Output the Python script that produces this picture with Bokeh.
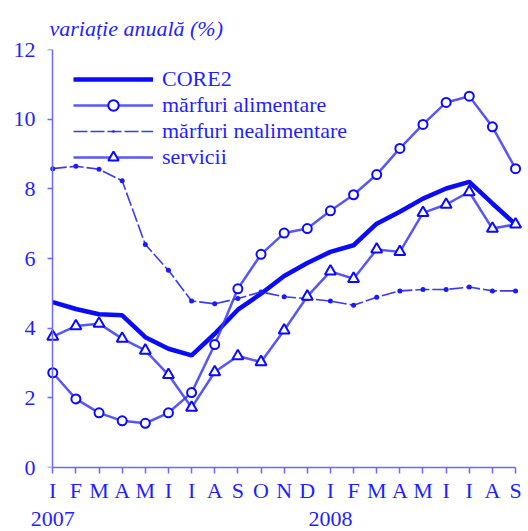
from bokeh.plotting import figure
from bokeh.models import Range1d, LinearAxis, FixedTicker, Legend, LegendItem
from bokeh.embed import file_html
from bokeh.resources import INLINE

months = ["I", "F", "M", "A", "M", "I", "I", "A", "S", "O", "N", "D",
          "I", "F", "M", "A", "M", "I", "I", "A", "S"]
years = ["2007", "2008"]
year_pos = [0, 12]
y_ticks = [0, 2, 4, 6, 8, 10, 12]

core2 = [4.75, 4.55, 4.40, 4.37, 3.74, 3.41, 3.22, 3.84, 4.53, 4.99, 5.50,
         5.87, 6.19, 6.38, 7.00, 7.34, 7.72, 8.01, 8.20, 7.58, 6.98]
alimentare = [2.72, 1.97, 1.57, 1.34, 1.27, 1.57, 2.15, 3.53, 5.13, 6.12, 6.73,
              6.86, 7.37, 7.83, 8.41, 9.16, 9.85, 10.48, 10.66, 9.78, 8.58]
nealimentare = [8.58, 8.65, 8.56, 8.23, 6.40, 5.66, 4.78, 4.70, 4.85, 5.04, 4.90,
                4.85, 4.78, 4.66, 4.89, 5.07, 5.11, 5.11, 5.18, 5.07, 5.07]
servicii = [3.76, 4.06, 4.13, 3.70, 3.36, 2.66, 1.72, 2.74, 3.20, 3.03, 3.94,
            4.91, 5.63, 5.42, 6.26, 6.19, 7.31, 7.55, 7.91, 6.86, 6.98]

x = list(range(len(months)))

TXT = "#1f1fff"
AX = "#6a6aff"
LINE = "#3a3af5"
FONT = "Liberation Serif"
FS = "22px"

p = figure(width=528, height=531, output_backend="svg", toolbar_location=None,
           x_range=Range1d(-0.4, 20.56), y_range=Range1d(0, 12),
           min_border_left=43, min_border_right=0, min_border_top=49,
           min_border_bottom=64, x_axis_location=None, y_axis_location=None)
p.grid.visible = False
p.outline_line_color = None

p.title.text = "variație anuală (%)"
p.title.text_font = FONT
p.title.text_font_size = FS
p.title.text_font_style = "italic"
p.title.text_color = TXT
p.title.align = "left"
p.title.offset = 6
p.title.standoff = 18

# y axis line and ticks at x = 0
yaxis = LinearAxis(ticker=FixedTicker(ticks=y_ticks), fixed_location=0)
yaxis.axis_line_color = AX
yaxis.axis_line_width = 1.5
yaxis.major_tick_line_color = AX
yaxis.major_tick_line_width = 1.5
yaxis.major_tick_out = 5
yaxis.major_tick_in = 0
yaxis.minor_tick_line_color = None
yaxis.major_label_text_alpha = 0
p.add_layout(yaxis, "left")

# y tick labels
ylab = LinearAxis(ticker=FixedTicker(ticks=y_ticks))
ylab.axis_line_color = None
ylab.major_tick_line_color = None
ylab.minor_tick_line_color = None
ylab.major_tick_out = 0
ylab.major_tick_in = 0
ylab.major_label_standoff = 8
ylab.major_label_text_font = FONT
ylab.major_label_text_font_size = FS
ylab.major_label_text_color = TXT
p.add_layout(ylab, "left")

xaxis = LinearAxis(ticker=FixedTicker(ticks=x), bounds=(0, 20),
                   major_label_overrides={i: m for i, m in enumerate(months)})
xaxis.axis_line_color = AX
xaxis.axis_line_width = 1.5
xaxis.major_tick_line_color = AX
xaxis.major_tick_line_width = 1.5
xaxis.major_tick_out = 6
xaxis.major_tick_in = 0
xaxis.minor_tick_line_color = None
xaxis.major_label_standoff = 4
xaxis.major_label_text_font = FONT
xaxis.major_label_text_font_size = FS
xaxis.major_label_text_color = TXT
p.add_layout(xaxis, "below")

yr_axis = LinearAxis(ticker=FixedTicker(ticks=year_pos),
                     major_label_overrides={pos: yr for pos, yr in zip(year_pos, years)})
yr_axis.axis_line_color = None
yr_axis.major_tick_line_color = None
yr_axis.minor_tick_line_color = None
yr_axis.major_tick_out = 0
yr_axis.major_tick_in = 0
yr_axis.major_label_standoff = 6
yr_axis.major_label_text_font = FONT
yr_axis.major_label_text_font_size = FS
yr_axis.major_label_text_color = TXT
p.add_layout(yr_axis, "below")

# series
r_core = p.line(x, core2, line_color="#0a0aff", line_width=4.5)

l_nea = p.line(x, nealimentare, line_color=LINE, line_width=1.6, line_dash="14 3")
s_nea = p.scatter(x, nealimentare, marker="dot", size=20, fill_color="#1a1aff",
                  line_color="#1a1aff", line_width=1)

l_ali = p.line(x, alimentare, line_color=LINE, line_width=2.5, line_alpha=0.85)
s_ali = p.scatter(x, alimentare, marker="circle", size=9, fill_color="white",
                  line_color="#0a0aff", line_width=2)

l_ser = p.line(x, servicii, line_color=LINE, line_width=2.5, line_alpha=0.85)
s_ser = p.scatter(x, servicii, marker="triangle", size=11, fill_color="white",
                  line_color="#0a0aff", line_width=2)

legend = Legend(items=[
    LegendItem(label="CORE2", renderers=[r_core]),
    LegendItem(label="mărfuri alimentare", renderers=[l_ali, s_ali]),
    LegendItem(label="mărfuri nealimentare", renderers=[l_nea, s_nea]),
    LegendItem(label="servicii", renderers=[l_ser, s_ser]),
], location=(30, 297))
legend.padding = 0
legend.margin = 0
legend.spacing = 0
legend.glyph_width = 80
legend.glyph_height = 26
legend.label_height = 26
legend.label_standoff = 9
legend.label_text_font = FONT
legend.label_text_font_size = FS
legend.label_text_color = TXT
legend.border_line_color = None
legend.background_fill_alpha = 0
p.add_layout(legend)

open("out.html", "w").write(file_html(p, INLINE))
